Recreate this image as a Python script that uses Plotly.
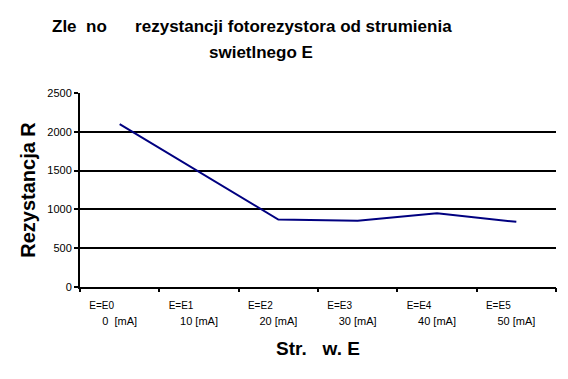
import plotly.graph_objects as go

categories = ["E0", "E1", "E2", "E3", "E4", "E5"]
labels_top = ["E=E0", "E=E1", "E=E2", "E=E3", "E=E4", "E=E5"]
labels_bottom = ["0\u00a0\u00a0[mA]", "10 [mA]", "20 [mA]", "30 [mA]", "40 [mA]", "50 [mA]"]
resistance = [2100, 1490, 870, 855, 950, 840]
y_ticks = [0, 500, 1000, 1500, 2000, 2500]

FONT = "Liberation Sans, Arial, sans-serif"
idx = list(range(len(categories)))
boundaries = [i - 0.5 for i in range(len(categories) + 1)]

fig = go.Figure()
fig.add_trace(go.Scatter(
    x=idx, y=resistance, mode="lines",
    line=dict(color="#000080", width=2),
    xaxis="x", yaxis="y", showlegend=False, hoverinfo="y",
))
fig.add_trace(go.Scatter(
    x=idx, y=resistance, mode="lines", line=dict(width=0), opacity=0,
    xaxis="x2", yaxis="y", showlegend=False, hoverinfo="skip",
))
fig.add_trace(go.Scatter(
    x=idx, y=resistance, mode="lines", line=dict(width=0), opacity=0,
    xaxis="x3", yaxis="y", showlegend=False, hoverinfo="skip",
))

fig.update_layout(
    width=560, height=371,
    margin=dict(l=72, r=12, t=85, b=92, autoexpand=False),
    paper_bgcolor="white", plot_bgcolor="white",
    font=dict(family=FONT, color="black"),
    xaxis=dict(
        type="linear", range=[-0.5, 5.5], automargin=False,
        tickmode="array", tickvals=idx, ticktext=labels_bottom,
        ticks="", showgrid=False, zeroline=False,
        showline=True, linecolor="black", linewidth=2,
        tickfont=dict(size=11, family=FONT),
        ticklabelstandoff=23,
        title=dict(text="<b>Str.\u00a0\u00a0\u00a0w. E</b>", font=dict(size=19, family=FONT), standoff=15),
    ),
    xaxis2=dict(
        type="linear", range=[-0.5, 5.5], overlaying="x", anchor="y", side="bottom",
        automargin=False,
        tickmode="array", tickvals=idx, ticktext=labels_top,
        ticks="", showgrid=False, zeroline=False, showline=False,
        tickfont=dict(size=10, family=FONT),
        ticklabelshift=-18, ticklabelstandoff=11,
    ),
    xaxis3=dict(
        type="linear", range=[-0.5, 5.5], overlaying="x", anchor="y", side="bottom",
        automargin=False,
        tickmode="array", tickvals=boundaries,
        showticklabels=False, ticks="outside", ticklen=4, tickwidth=2, tickcolor="black",
        showgrid=False, zeroline=False, showline=False,
    ),
    yaxis=dict(
        range=[0, 2500], tickmode="array", tickvals=y_ticks, automargin=False,
        ticks="outside", ticklen=4, tickwidth=2, tickcolor="black",
        showgrid=True, gridcolor="black", gridwidth=2,
        zeroline=False, showline=True, linecolor="black", linewidth=2,
        tickfont=dict(size=11, family=FONT),
        title=dict(text="<b>Rezystancja R</b>", font=dict(size=20, family=FONT), standoff=6),
    ),
    annotations=[
        dict(text="<b>Zle\u00a0\u00a0no\u00a0\u00a0\u00a0\u00a0\u00a0\u00a0rezystancji fotorezystora od strumienia</b>",
             xref="paper", yref="paper", x=(252 - 80) / 476, y=1 + (93 - 27) / 194,
             xanchor="center", yanchor="middle", showarrow=False,
             font=dict(size=17, family=FONT)),
        dict(text="<b>swietlnego E</b>",
             xref="paper", yref="paper", x=(261 - 80) / 476, y=1 + (93 - 52) / 194,
             xanchor="center", yanchor="middle", showarrow=False,
             font=dict(size=17, family=FONT)),
    ],
)

fig.write_html("out.html")
